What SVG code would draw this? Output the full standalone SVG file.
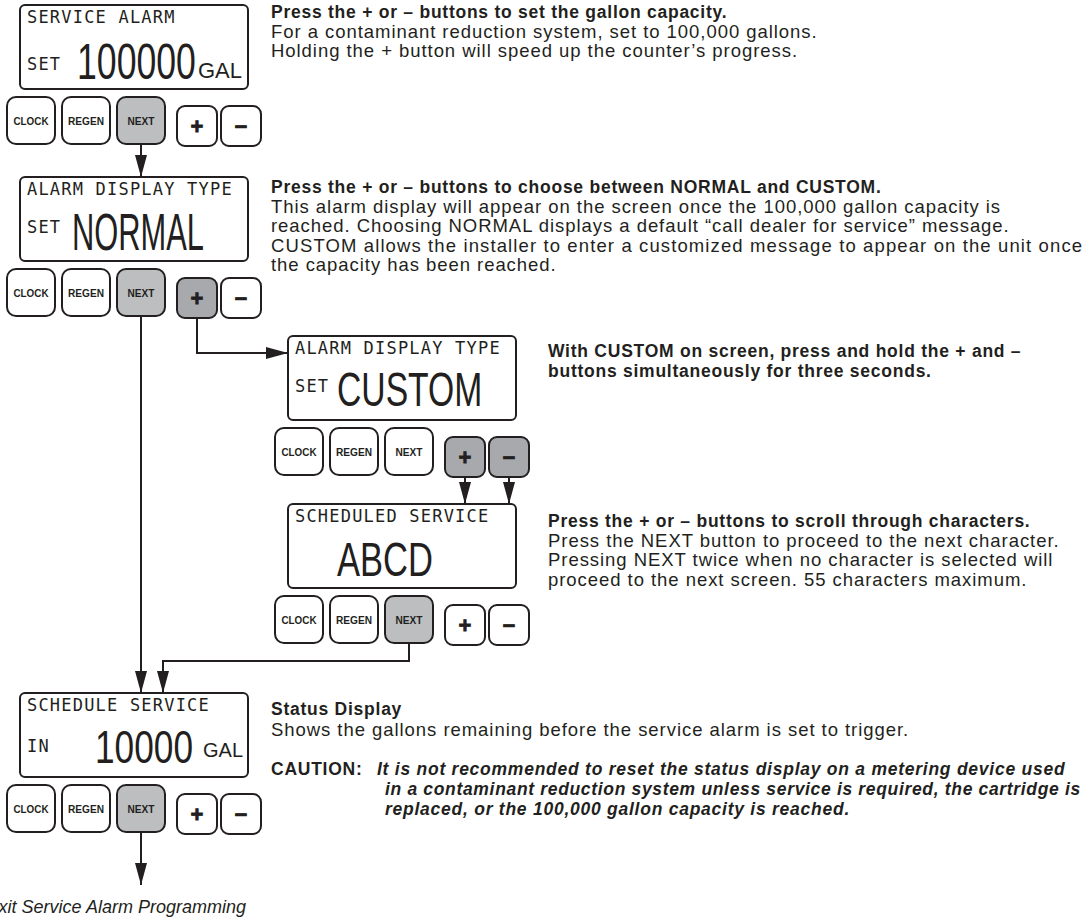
<svg xmlns="http://www.w3.org/2000/svg" width="1086" height="919" viewBox="0 0 1086 919">
<defs>
<marker id="ah" markerUnits="userSpaceOnUse" markerWidth="22" markerHeight="12" refX="22" refY="6" orient="auto">
<path d="M0,0 L22,6 L0,12 Z" fill="#231f20"/>
</marker>
<style>
.lcd{fill:#fff;stroke:#231f20;stroke-width:2}
.btn{fill:#fff;stroke:#231f20;stroke-width:2}
.on{fill:#bcbec0}
.on2{fill:#a7a9ac}
.mono{font-family:"DejaVu Sans Mono","Liberation Mono",monospace;font-size:17px;letter-spacing:1.2px;fill:#231f20}
.big{font-family:"Liberation Sans",Arial,sans-serif;fill:#231f20}
.bl{font-family:"Liberation Sans",Arial,sans-serif;font-weight:bold;font-size:11px;fill:#231f20;text-anchor:middle}
.pm{font-family:"Liberation Sans",Arial,sans-serif;font-weight:bold;font-size:22px;fill:#231f20;stroke:#231f20;stroke-width:0.8;text-anchor:middle}
.t{font-family:"Liberation Sans",Arial,sans-serif;font-size:18.5px;letter-spacing:0.95px;fill:#231f20}
.h{font-family:"Liberation Sans",Arial,sans-serif;font-size:17.5px;letter-spacing:0.75px;font-weight:bold;fill:#231f20}
.ci{font-family:"Liberation Sans",Arial,sans-serif;font-size:17.5px;letter-spacing:0.75px;font-weight:bold;font-style:italic;fill:#231f20}
.ex{font-family:"Liberation Sans",Arial,sans-serif;font-size:18px;font-style:italic;fill:#231f20}
.cn{fill:none;stroke:#231f20;stroke-width:2}
</style>
</defs>
<rect width="1086" height="919" fill="#fff"/>

<g id="display1">
<rect class="lcd" x="20" y="5" width="228" height="84" rx="5"/>
<text class="mono" x="27" y="23">SERVICE ALARM</text>
<text class="mono" x="27" y="70">SET</text>
<text class="big" transform="translate(77,79) scale(0.713,1)" font-size="50">100000</text>
<text class="big" x="198" y="78" font-size="22">GAL</text>
</g>
<g id="buttons1">
<rect class="btn" x="7" y="97" width="48" height="47" rx="9"/><text class="bl" x="31" y="124.5" textLength="35" lengthAdjust="spacingAndGlyphs">CLOCK</text>
<rect class="btn" x="62" y="97" width="48" height="47" rx="9"/><text class="bl" x="86" y="124.5" textLength="36" lengthAdjust="spacingAndGlyphs">REGEN</text>
<rect class="btn on" x="117" y="97" width="48" height="47" rx="9"/><text class="bl" x="141" y="124.5" textLength="27" lengthAdjust="spacingAndGlyphs">NEXT</text>
<rect class="btn" x="177" y="106" width="40" height="40" rx="8"/><text class="pm" x="197" y="133.5">+</text>
<rect class="btn" x="221" y="106" width="40" height="40" rx="8"/><text class="pm" x="241" y="133.5">−</text>
</g>

<g id="display2">
<rect class="lcd" x="20" y="177" width="228" height="84" rx="5"/>
<text class="mono" x="27" y="195">ALARM DISPLAY TYPE</text>
<text class="mono" x="27" y="233">SET</text>
<text class="big" transform="translate(72,250) scale(0.605,1)" font-size="51">NORMAL</text>
</g>
<g id="buttons2">
<rect class="btn" x="7" y="269" width="48" height="47" rx="9"/><text class="bl" x="31" y="296.5" textLength="35" lengthAdjust="spacingAndGlyphs">CLOCK</text>
<rect class="btn" x="62" y="269" width="48" height="47" rx="9"/><text class="bl" x="86" y="296.5" textLength="36" lengthAdjust="spacingAndGlyphs">REGEN</text>
<rect class="btn on" x="117" y="269" width="48" height="47" rx="9"/><text class="bl" x="141" y="296.5" textLength="27" lengthAdjust="spacingAndGlyphs">NEXT</text>
<rect class="btn on2" x="177" y="278" width="40" height="40" rx="8"/><text class="pm" x="197" y="305.5">+</text>
<rect class="btn" x="221" y="278" width="40" height="40" rx="8"/><text class="pm" x="241" y="305.5">−</text>
</g>

<g id="display3">
<rect class="lcd" x="288" y="336" width="228" height="84" rx="5"/>
<text class="mono" x="295" y="354">ALARM DISPLAY TYPE</text>
<text class="mono" x="295" y="392">SET</text>
<text class="big" transform="translate(337,406) scale(0.702,1)" font-size="48">CUSTOM</text>
</g>
<g id="buttons3">
<rect class="btn" x="275" y="428" width="48" height="47" rx="9"/><text class="bl" x="299" y="455.5" textLength="35" lengthAdjust="spacingAndGlyphs">CLOCK</text>
<rect class="btn" x="330" y="428" width="48" height="47" rx="9"/><text class="bl" x="354" y="455.5" textLength="36" lengthAdjust="spacingAndGlyphs">REGEN</text>
<rect class="btn" x="385" y="428" width="48" height="47" rx="9"/><text class="bl" x="409" y="455.5" textLength="27" lengthAdjust="spacingAndGlyphs">NEXT</text>
<rect class="btn on2" x="445" y="437" width="40" height="40" rx="8"/><text class="pm" x="465" y="464.5">+</text>
<rect class="btn on2" x="489" y="437" width="40" height="40" rx="8"/><text class="pm" x="509" y="464.5">−</text>
</g>

<g id="display4">
<rect class="lcd" x="288" y="504" width="228" height="84" rx="5"/>
<text class="mono" x="295" y="522">SCHEDULED SERVICE</text>
<text class="big" transform="translate(337,576) scale(0.72,1)" font-size="48">ABCD</text>
</g>
<g id="buttons4">
<rect class="btn" x="275" y="596" width="48" height="47" rx="9"/><text class="bl" x="299" y="623.5" textLength="35" lengthAdjust="spacingAndGlyphs">CLOCK</text>
<rect class="btn" x="330" y="596" width="48" height="47" rx="9"/><text class="bl" x="354" y="623.5" textLength="36" lengthAdjust="spacingAndGlyphs">REGEN</text>
<rect class="btn on" x="385" y="596" width="48" height="47" rx="9"/><text class="bl" x="409" y="623.5" textLength="27" lengthAdjust="spacingAndGlyphs">NEXT</text>
<rect class="btn" x="445" y="605" width="40" height="40" rx="8"/><text class="pm" x="465" y="632.5">+</text>
<rect class="btn" x="489" y="605" width="40" height="40" rx="8"/><text class="pm" x="509" y="632.5">−</text>
</g>

<g id="display5">
<rect class="lcd" x="20" y="693" width="228" height="84" rx="5"/>
<text class="mono" x="27" y="711">SCHEDULE SERVICE</text>
<text class="mono" x="27" y="752">IN</text>
<text class="big" transform="translate(95,763) scale(0.766,1)" font-size="46">10000</text>
<text class="big" x="203" y="757" font-size="20">GAL</text>
</g>
<g id="buttons5">
<rect class="btn" x="7" y="785" width="48" height="47" rx="9"/><text class="bl" x="31" y="812.5" textLength="35" lengthAdjust="spacingAndGlyphs">CLOCK</text>
<rect class="btn" x="62" y="785" width="48" height="47" rx="9"/><text class="bl" x="86" y="812.5" textLength="36" lengthAdjust="spacingAndGlyphs">REGEN</text>
<rect class="btn on" x="117" y="785" width="48" height="47" rx="9"/><text class="bl" x="141" y="812.5" textLength="27" lengthAdjust="spacingAndGlyphs">NEXT</text>
<rect class="btn" x="177" y="794" width="40" height="40" rx="8"/><text class="pm" x="197" y="821.5">+</text>
<rect class="btn" x="221" y="794" width="40" height="40" rx="8"/><text class="pm" x="241" y="821.5">−</text>
</g>

<g id="connectors">
<path class="cn" d="M141,144 V177" marker-end="url(#ah)"/>
<path class="cn" d="M141,316 V693" marker-end="url(#ah)"/>
<path class="cn" d="M197,318 V353 H288" marker-end="url(#ah)"/>
<path class="cn" d="M465,477 V504" marker-end="url(#ah)"/>
<path class="cn" d="M509,477 V504" marker-end="url(#ah)"/>
<path class="cn" d="M409,643 V661 H163 V693" marker-end="url(#ah)"/>
<path class="cn" d="M141,832 V885" marker-end="url(#ah)"/>
</g>

<g id="text1">
<text class="h" x="271" y="18">Press the + or – buttons to set the gallon capacity.</text>
<text class="t" x="271" y="37.5">For a contaminant reduction system, set to 100,000 gallons.</text>
<text class="t" x="271" y="57">Holding the + button will speed up the counter’s progress.</text>
</g>
<g id="text2">
<text class="h" x="271" y="193">Press the + or – buttons to choose between NORMAL and CUSTOM.</text>
<text class="t" x="271" y="212.5">This alarm display will appear on the screen once the 100,000 gallon capacity is</text>
<text class="t" x="271" y="232">reached. Choosing NORMAL displays a default “call dealer for service” message.</text>
<text class="t" x="271" y="251.5" textLength="812">CUSTOM allows the installer to enter a customized message to appear on the unit once</text>
<text class="t" x="271" y="271">the capacity has been reached.</text>
</g>
<g id="text3">
<text class="h" x="548" y="357">With CUSTOM on screen, press and hold the + and –</text>
<text class="h" x="548" y="377">buttons simultaneously for three seconds.</text>
</g>
<g id="text4">
<text class="h" x="548" y="527">Press the + or – buttons to scroll through characters.</text>
<text class="t" x="548" y="546.5">Press the NEXT button to proceed to the next character.</text>
<text class="t" x="548" y="566">Pressing NEXT twice when no character is selected will</text>
<text class="t" x="548" y="585.5">proceed to the next screen. 55 characters maximum.</text>
</g>
<g id="text5">
<text class="h" x="271" y="715">Status Display</text>
<text class="t" x="271" y="736">Shows the gallons remaining before the service alarm is set to trigger.</text>
<text class="h" x="271" y="775">CAUTION:</text>
<text class="ci" x="377" y="775">It is not recommended to reset the status display on a metering device used</text>
<text class="ci" x="385" y="795" textLength="696">in a contaminant reduction system unless service is required, the cartridge is</text>
<text class="ci" x="385" y="815">replaced, or the 100,000 gallon capacity is reached.</text>
</g>
<g id="exit">
<text class="ex" x="246" y="913" text-anchor="end">Exit Service Alarm Programming</text>
</g>
</svg>
